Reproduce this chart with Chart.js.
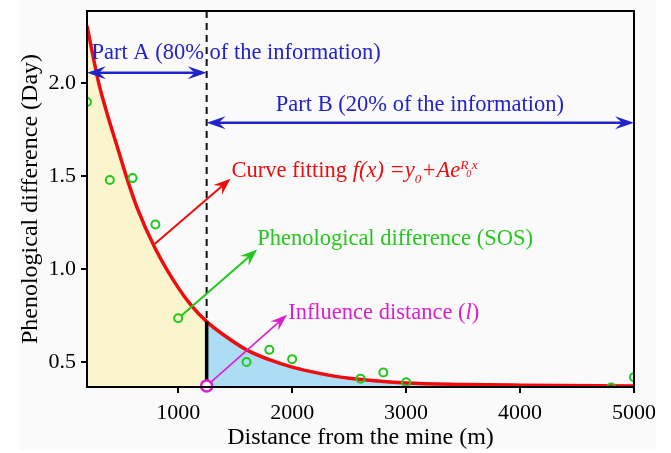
<!DOCTYPE html>
<html>
<head>
<meta charset="utf-8">
<script src="https://cdn.jsdelivr.net/npm/chart.js@4/dist/chart.umd.min.js"></script>
<style>
  html, body { margin: 0; padding: 0; background: #ffffff; }
  canvas { display: block; }
</style>
</head>
<body>
<canvas id="chart" width="671" height="453"></canvas>
<script>
// Observed phenological difference (SOS) by distance from the mine
const distances = [200, 400, 600, 800, 1000, 1600, 1800, 2000, 2600, 2800, 3000, 4800, 5000];
const sosDiff   = [1.90, 1.48, 1.49, 1.24, 0.735, 0.50, 0.565, 0.515, 0.41, 0.443, 0.39, 0.362, 0.418];

// Fitted curve f(x) = y0 + A e^(R0 x), sampled along the distance axis
const fitX = [200, 300, 380, 460, 550, 640, 800, 1000, 1120, 1250, 1400, 1600, 1800, 2000, 2250, 2500, 3000, 3500, 4000, 5000];
const fitY = [2.31, 2.01, 1.83, 1.67, 1.49, 1.33, 1.11, 0.90, 0.80, 0.717, 0.645, 0.565, 0.512, 0.472, 0.437, 0.412, 0.387, 0.379, 0.375, 0.370];

// Influence distance l and the value of the fitted curve there
const influenceDistance = 1250;
const influenceBase = 0.371;
const influenceCurveValue = 0.717;

// Axis ranges and ticks
const xRange = [200, 5000];
const yRange = [0.365, 2.39];
const xTickValues = [1000, 2000, 3000, 4000, 5000];
const yTickValues = [0.5, 1.0, 1.5, 2.0];

const SERIF = '"Liberation Serif", "Times New Roman", serif';
const RED = 'rgb(238, 12, 12)';
const GREEN = 'rgb(34, 200, 28)';
const BLUE = 'rgb(34, 34, 204)';
const MAGENTA = 'rgb(220, 30, 210)';

const fitPoints = fitX.map((x, i) => ({ x, y: fitY[i] }));
const partAPoints = fitPoints.filter(p => p.x <= influenceDistance);
const partBPoints = fitPoints.filter(p => p.x >= influenceDistance);

// Annotation geometry, in data units
const arrows = {
  partA: { from: [200, 2.058], to: [influenceDistance, 2.058], color: BLUE, width: 2.5, both: true, head: [19, 6.5, 7] },
  partB: { from: [influenceDistance, 1.788], to: [5000, 1.788], color: BLUE, width: 2.5, both: true, head: [19, 6.5, 7] },
  fit:   { from: [796, 1.137],  to: [1460, 1.486], color: RED, width: 2, both: false, head: [17, 6.5, 6] },
  sos:   { from: [1030, 0.75],  to: [1693, 1.105], color: GREEN, width: 2, both: false, head: [17, 6.5, 6] },
  infl:  { from: [1293, 0.394], to: [1956, 0.754], color: MAGENTA, width: 1.6, both: false, head: [17, 6, 6] }
};

function arrowHead(ctx, x1, y1, x2, y2, color, head) {
  const ang = Math.atan2(y2 - y1, x2 - x1);
  const [L, W, N] = head;
  const ux = Math.cos(ang), uy = Math.sin(ang);
  const nx = -uy, ny = ux;
  ctx.beginPath();
  ctx.moveTo(x2, y2);
  ctx.lineTo(x2 - L * ux + W * nx, y2 - L * uy + W * ny);
  ctx.lineTo(x2 - (L - N) * ux, y2 - (L - N) * uy);
  ctx.lineTo(x2 - L * ux - W * nx, y2 - L * uy - W * ny);
  ctx.closePath();
  ctx.fillStyle = color;
  ctx.fill();
}

function drawArrow(ctx, xs, ys, a) {
  const x1 = xs.getPixelForValue(a.from[0]), y1 = ys.getPixelForValue(a.from[1]);
  const x2 = xs.getPixelForValue(a.to[0]), y2 = ys.getPixelForValue(a.to[1]);
  const ang = Math.atan2(y2 - y1, x2 - x1);
  const inset = 10;
  const sx = a.both ? x1 + inset * Math.cos(ang) : x1;
  const sy = a.both ? y1 + inset * Math.sin(ang) : y1;
  ctx.beginPath();
  ctx.moveTo(sx, sy);
  ctx.lineTo(x2 - inset * Math.cos(ang), y2 - inset * Math.sin(ang));
  ctx.strokeStyle = a.color;
  ctx.lineWidth = a.width;
  ctx.stroke();
  arrowHead(ctx, x1, y1, x2, y2, a.color, a.head);
  if (a.both) arrowHead(ctx, x2, y2, x1, y1, a.color, a.head);
}

// Text runs: {t, size, italic, dy, dx}
function drawRuns(ctx, x, y, runs, color) {
  ctx.fillStyle = color;
  ctx.textBaseline = 'alphabetic';
  ctx.textAlign = 'left';
  let cx = x;
  for (const r of runs) {
    ctx.font = (r.italic ? 'italic ' : '') + r.size + 'px ' + SERIF;
    cx += r.dx || 0;
    ctx.fillText(r.t, cx, y + (r.dy || 0));
    if (!r.noAdvance) cx += ctx.measureText(r.t).width;
  }
}

const annotationPlugin = {
  id: 'annotations',
  beforeDraw(chart) {
    const ctx = chart.ctx;
    ctx.save();
    ctx.fillStyle = '#ffffff';
    ctx.fillRect(0, 0, chart.width, chart.height);
    ctx.fillStyle = '#fafafa';
    ctx.fillRect(19, 0, 637, 450);
    ctx.restore();
  },
  afterDatasetDraw(chart, args) {
    if (chart.data.datasets[args.index].label !== 'fit') return;
    const ctx = chart.ctx;
    const xs = chart.scales.x, ys = chart.scales.y;
    const area = chart.chartArea;
    const xl = xs.getPixelForValue(influenceDistance);
    const yc = ys.getPixelForValue(influenceCurveValue);
    ctx.save();
    // dashed divider above the curve
    ctx.beginPath();
    ctx.setLineDash([7, 5]);
    ctx.moveTo(xl, area.top);
    ctx.lineTo(xl, yc);
    ctx.strokeStyle = '#111';
    ctx.lineWidth = 2;
    ctx.stroke();
    // solid divider below the curve
    ctx.setLineDash([]);
    ctx.beginPath();
    ctx.moveTo(xl, yc);
    ctx.lineTo(xl, area.bottom);
    ctx.lineWidth = 3.5;
    ctx.strokeStyle = '#000';
    ctx.stroke();

    for (const k of Object.keys(arrows)) drawArrow(ctx, xs, ys, arrows[k]);

    const px = v => xs.getPixelForValue(v);
    const py = v => ys.getPixelForValue(v);
    drawRuns(ctx, px(239), py(2.132), [{ t: 'Part A (80% of the information)', size: 22.5 }], BLUE);
    drawRuns(ctx, px(1857), py(1.854), [{ t: 'Part B (20% of the information)', size: 22.5 }], BLUE);
    drawRuns(ctx, px(1468), py(1.497), [
      { t: 'Curve fitting ', size: 22.5 },
      { t: 'f(x) =y', size: 22.5, italic: true },
      { t: '0', size: 13, italic: true, dy: 6 },
      { t: '+Ae', size: 22.5, italic: true },
      { t: 'R', size: 13.5, italic: true, dy: -8, noAdvance: true },
      { t: '0', size: 10, italic: true, dy: 0, dx: 6 },
      { t: 'x', size: 13.5, italic: true, dy: -8, dx: 0.5 }
    ], RED);
    drawRuns(ctx, px(1693), py(1.132), [{ t: 'Phenological difference (SOS)', size: 22.5 }], GREEN);
    drawRuns(ctx, px(1965), py(0.730), [
      { t: 'Influence distance (', size: 22.5 },
      { t: 'l', size: 22.5, italic: true },
      { t: ')', size: 22.5 }
    ], MAGENTA);
    ctx.restore();
  },
  afterDraw(chart) {
    const ctx = chart.ctx;
    const a = chart.chartArea;
    ctx.save();
    ctx.strokeStyle = '#000';
    ctx.lineWidth = 2;
    ctx.strokeRect(a.left, a.top, a.right - a.left, a.bottom - a.top);
    ctx.restore();
  }
};

new Chart(document.getElementById('chart'), {
  type: 'line',
  data: {
    datasets: [
      {
        label: 'influence',
        type: 'scatter',
        data: [{ x: influenceDistance, y: influenceBase }],
        pointRadius: 5.5,
        pointBorderWidth: 2.5,
        pointBorderColor: MAGENTA,
        pointBackgroundColor: '#ffffff',
        clip: false,
        order: 0
      },
      {
        label: 'sos',
        type: 'scatter',
        data: distances.map((x, i) => ({ x, y: sosDiff[i] })),
        pointRadius: 4,
        pointBorderWidth: 2,
        pointBorderColor: GREEN,
        pointBackgroundColor: 'rgba(0,0,0,0)',
        clip: 0,
        order: 1
      },
      {
        label: 'fit',
        data: fitPoints,
        borderColor: RED,
        borderWidth: 3.5,
        pointRadius: 0,
        cubicInterpolationMode: 'monotone',
        fill: false,
        order: 2
      },
      {
        label: 'partB',
        data: partBPoints,
        borderWidth: 0,
        borderColor: 'rgba(0,0,0,0)',
        backgroundColor: 'rgb(172, 221, 245)',
        pointRadius: 0,
        cubicInterpolationMode: 'monotone',
        fill: 'start',
        order: 3
      },
      {
        label: 'partA',
        data: partAPoints,
        borderWidth: 0,
        borderColor: 'rgba(0,0,0,0)',
        backgroundColor: 'rgb(250, 245, 204)',
        pointRadius: 0,
        cubicInterpolationMode: 'monotone',
        fill: 'start',
        order: 4
      }
    ]
  },
  options: {
    responsive: false,
    animation: false,
    devicePixelRatio: 1,
    layout: { padding: { left: 0, right: 37, top: 11, bottom: 0 } },
    plugins: { legend: { display: false }, tooltip: { enabled: false } },
    scales: {
      x: {
        type: 'linear',
        min: xRange[0],
        max: xRange[1],
        afterBuildTicks: s => { s.ticks = xTickValues.map(v => ({ value: v })); },
        afterFit: s => { s.height = 66; s.paddingLeft = 0; s.paddingRight = 0; },
        grid: { display: true, drawOnChartArea: false, drawTicks: true, tickLength: 6, color: '#000', lineWidth: 2 },
        border: { display: true, color: '#000', width: 2 },
        ticks: { color: '#000', font: { family: SERIF, size: 22 }, padding: 7, maxRotation: 0, callback: v => String(v) },
        title: { display: true, text: 'Distance from the mine (m)', color: '#000', font: { family: SERIF, size: 24 }, padding: { top: 0, bottom: 1 } }
      },
      y: {
        type: 'linear',
        min: yRange[0],
        max: yRange[1],
        afterBuildTicks: s => { s.ticks = yTickValues.map(v => ({ value: v })); },
        afterFit: s => { s.width = 87; s.paddingTop = 0; s.paddingBottom = 0; },
        grid: { display: true, drawOnChartArea: false, drawTicks: true, tickLength: 6, color: '#000', lineWidth: 2 },
        border: { display: true, color: '#000', width: 2 },
        ticks: { color: '#000', font: { family: SERIF, size: 22 }, padding: 5, callback: v => v.toFixed(1) },
        title: { display: true, text: 'Phenological difference (Day)', color: '#000', font: { family: SERIF, size: 24 }, padding: { top: 16, bottom: 0 } }
      }
    }
  },
  plugins: [annotationPlugin]
});
</script>
</body>
</html>
